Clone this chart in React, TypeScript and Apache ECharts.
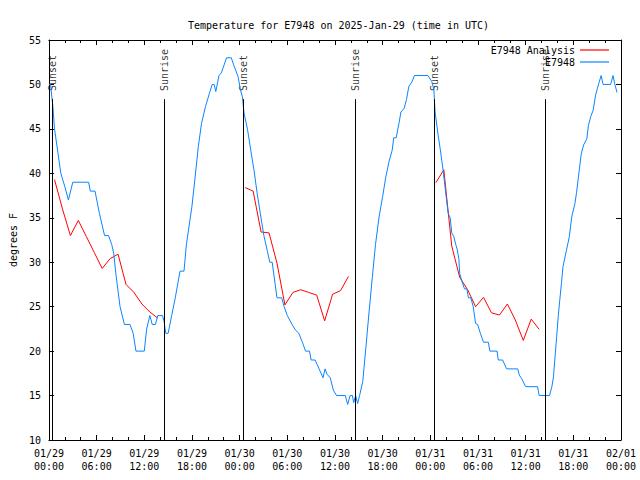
import React, { useEffect, useRef } from "react";
import * as echarts from "echarts";

// X axis in hours since 01/29 00:00 UTC
const xTickLabels = [
  "01/29\n00:00", "01/29\n06:00", "01/29\n12:00", "01/29\n18:00",
  "01/30\n00:00", "01/30\n06:00", "01/30\n12:00", "01/30\n18:00",
  "01/31\n00:00", "01/31\n06:00", "01/31\n12:00", "01/31\n18:00",
  "02/01\n00:00",
];

// E7948 observations (hour, degrees F)
const obsHours = [
  0.0, 0.2, 0.5, 0.7, 1.1, 1.5, 2.0, 2.45, 3.0, 5.0, 5.2, 5.8, 6.35, 7.0, 7.5, 7.9, 8.15, 8.45, 8.95, 9.5,
  10.2, 10.6, 10.95, 12.0, 12.3, 12.7, 13.0, 13.4, 13.7, 14.3, 14.5, 14.7, 15.0, 15.45, 15.9, 16.5, 17.0, 17.3, 18.0, 18.4,
  18.8, 19.2, 19.7, 20.2, 20.55, 20.8, 21.0, 21.4, 21.7, 22.05, 22.35, 22.95, 23.25, 23.8, 24.1, 24.35, 24.55, 25.0, 25.4, 25.8,
  26.2, 26.6, 27.05, 27.5, 27.8, 28.1, 28.4, 28.7, 29.3, 29.6, 30.0, 30.6, 31.0, 31.45, 31.9, 32.3, 32.8, 33.0, 33.5, 34.0,
  34.5, 34.75, 35.0, 35.4, 35.8, 36.2, 37.3, 37.6, 37.9, 38.2, 38.35, 38.6, 38.85, 39.1, 39.5, 39.9, 40.3, 40.7, 41.1, 41.55,
  42.0, 42.4, 42.8, 43.2, 43.4, 43.7, 44.05, 44.3, 44.7, 45.0, 45.3, 45.7, 46.0, 47.7, 48.2, 48.45, 48.6, 49.0, 49.3, 49.6,
  49.85, 50.1, 50.25, 50.5, 50.7, 50.95, 51.2, 51.4, 51.6, 51.7, 52.0, 52.3, 52.6, 52.8, 53.1, 53.4, 53.7, 53.95, 54.3, 54.7,
  55.3, 55.5, 56.4, 56.55, 57.1, 57.6, 59.0, 59.2, 59.5, 60.0, 61.5, 61.7, 63.0, 63.3, 63.5, 63.7, 63.9, 64.1, 64.3, 64.5,
  64.7, 65.1, 65.5, 65.8, 66.2, 66.4, 66.75, 67.0, 67.3, 67.7, 67.9, 68.2, 68.5, 68.8, 69.2, 69.5, 69.75, 70.7, 71.0, 71.2,
  71.5,
];
const obsTemps = [
  50, 50, 47.5, 45, 42.5, 40, 38.5, 37, 39, 39, 38, 38, 35.5, 33, 33, 32, 31, 28.5, 25, 23,
  23, 22, 20, 20, 22.5, 24, 23, 23, 24, 24, 23.3, 22, 22, 24, 26, 29, 29, 32, 36.3, 39.6,
  43, 45.6, 47.5, 49, 50, 50, 49.2, 51, 51.3, 52.2, 53, 53, 52.2, 50.9, 49.4, 48.6, 46.8, 44.9, 42.6, 40.4,
  37.8, 35.5, 33, 31.2, 30, 30, 28, 26, 26, 25, 24, 23, 22.4, 22, 21, 20, 20, 19, 19, 18,
  17, 18, 17.4, 17, 15.6, 15, 15, 14, 15, 15, 14.2, 15, 14.1, 15, 16.6, 20.5, 24.5, 28.3, 32, 35.1,
  37.4, 39.6, 41.3, 42.6, 44, 44, 45.6, 46.9, 47.3, 48.3, 49.8, 50.3, 51, 51, 50.3, 49.4, 46.9, 44.2, 42.4, 40.4,
  38.5, 36.6, 35.5, 35, 33.3, 32.9, 32, 31.4, 30.3, 28.75, 27.8, 27, 27, 26, 26, 25, 23.1, 23, 22, 21,
  21, 20, 20, 19, 19, 18, 18, 17.3, 16.9, 16, 16, 15, 15, 16, 17.1, 19.4, 21.6, 23.9, 25.8, 27.6,
  29.5, 31.2, 32.9, 35.1, 36.6, 37.8, 40.4, 42.2, 43.2, 43.9, 45.4, 46.4, 47.1, 48.8, 50.1, 51, 50, 50, 51, 50.1,
  49.1,
];

// E7948 Analysis: three hourly runs (start hour, values)
const analysisStarts = [0.7, 24.7, 48.7];
const analysisRun1 = [39.3, 36.0, 33.0, 34.7, 32.9, 31.1, 29.3, 30.4, 30.9, 27.5, 26.6, 25.3, 24.4, 23.7];
const analysisRun2 = [38.4, 38.0, 33.4, 33.3, 29.9, 25.2, 26.6, 26.9, 26.6, 26.3, 23.4, 26.4, 26.8, 28.4];
const analysisRun3 = [38.95, 40.4, 31.8, 28.3, 26.9, 25.0, 26.05, 24.3, 24.06, 25.3, 23.5, 21.2, 23.6, 22.45];

// Sunrise / sunset markers
const eventHours = [0.45, 14.5, 24.5, 38.55, 48.55, 62.5];
const eventNames = ["Sunset", "Sunrise", "Sunset", "Sunrise", "Sunset", "Sunrise"];
const eventLineTop = 48.35;
const eventLabelAt = 49.15;

const FONT = "DejaVu Sans Mono, monospace";

export default function App() {
  const ref = useRef<HTMLDivElement>(null);

  useEffect(() => {
    if (!ref.current) return;
    const chart = echarts.init(ref.current, undefined, { renderer: "svg" });

    const obsData = obsHours.map((h, i) => [h, obsTemps[i]]);
    const analysisData: any[] = [];
    [analysisRun1, analysisRun2, analysisRun3].forEach((run, r) => {
      run.forEach((v, k) => analysisData.push([analysisStarts[r] + k, v]));
      if (r < 2) analysisData.push([analysisStarts[r] + run.length, "-"]);
    });

    const axisCommonX = {
      type: "value" as const,
      min: 0,
      max: 72,
      interval: 6,
      axisLine: { show: true, onZero: false, lineStyle: { color: "#000", width: 1 } },
      axisTick: { show: true, inside: true, length: 5, lineStyle: { color: "#000" } },
      minorTick: { show: true, splitNumber: 3, length: 3, lineStyle: { color: "#000" } },
      splitLine: { show: false },
      minorSplitLine: { show: false },
    };
    const axisCommonY = {
      type: "value" as const,
      min: 10,
      max: 55,
      interval: 5,
      axisLine: { show: true, onZero: false, lineStyle: { color: "#000", width: 1 } },
      axisTick: { show: true, inside: true, length: 5, lineStyle: { color: "#000" } },
      splitLine: { show: false },
    };

    chart.setOption({
      animation: false,
      backgroundColor: "#fff",
      textStyle: { fontFamily: FONT },
      title: {
        text: "Temperature for E7948 on 2025-Jan-29 (time in UTC)",
        left: 183,
        top: 14,
        textStyle: { fontFamily: FONT, fontSize: 10, fontWeight: "normal", color: "#000", lineHeight: 12 },
      },
      legend: {
        data: [
          { name: "E7948 Analysis", icon: "rect", itemStyle: { color: "#ff0000" } },
          { name: "E7948", icon: "rect", itemStyle: { color: "#0a84ff" } },
        ],
        orient: "vertical",
        align: "right",
        right: 26,
        top: 39,
        itemWidth: 29,
        itemHeight: 1.2,
        itemGap: 0,
        textStyle: { fontFamily: FONT, fontSize: 10, color: "#000", lineHeight: 12 },
      },
      grid: { left: 47, right: 19, top: 40, bottom: 40 },
      xAxis: [
        {
          ...axisCommonX,
          position: "bottom",
          axisLabel: {
            show: true,
            showMinLabel: true,
            showMaxLabel: true,
            margin: 7,
            color: "#000",
            fontFamily: FONT,
            fontSize: 10,
            lineHeight: 13,
            formatter: (v: number) => xTickLabels[Math.round(v / 6)] ?? "",
          },
        },
        { ...axisCommonX, position: "top", axisLabel: { show: false } },
      ],
      yAxis: [
        {
          ...axisCommonY,
          position: "left",
          name: "degrees F",
          nameLocation: "middle",
          nameGap: 30,
          nameRotate: 90,
          nameTextStyle: { fontFamily: FONT, fontSize: 10, color: "#000" },
          axisLabel: { show: true, margin: 8, color: "#000", fontFamily: FONT, fontSize: 10 },
        },
        { ...axisCommonY, position: "right", axisLabel: { show: false } },
      ],
      series: [
        {
          name: "E7948 Analysis",
          type: "line",
          data: analysisData,
          symbol: "none",
          connectNulls: false,
          lineStyle: { color: "#ff0000", width: 1 },
          itemStyle: { color: "#ff0000" },
          markLine: {
            silent: true,
            symbol: ["none", "none"],
            label: { show: false },
            lineStyle: { color: "#000", type: "solid", width: 1 },
            data: eventHours.map((t) => [{ coord: [t, 10] }, { coord: [t, eventLineTop] }]),
          },
        },
        {
          name: "E7948",
          type: "line",
          data: obsData,
          symbol: "none",
          lineStyle: { color: "#0a84ff", width: 1 },
          itemStyle: { color: "#0a84ff" },
        },
        {
          name: "events",
          type: "scatter",
          data: eventHours.map((t) => [t, eventLabelAt]),
          symbolSize: 0,
          silent: true,
          itemStyle: { color: "transparent" },
          label: {
            show: true,
            position: "inside",
            rotate: 90,
            align: "left",
            verticalAlign: "middle",
            offset: [1, 0],
            color: "#000",
            fontFamily: FONT,
            fontSize: 10,
            formatter: (p: any) => eventNames[p.dataIndex],
          },
        },
      ],
    });

    return () => chart.dispose();
  }, []);

  return (
    <div
      ref={ref}
      style={{ position: "fixed", left: 0, top: 0, width: 640, height: 480, background: "#fff" }}
    />
  );
}
